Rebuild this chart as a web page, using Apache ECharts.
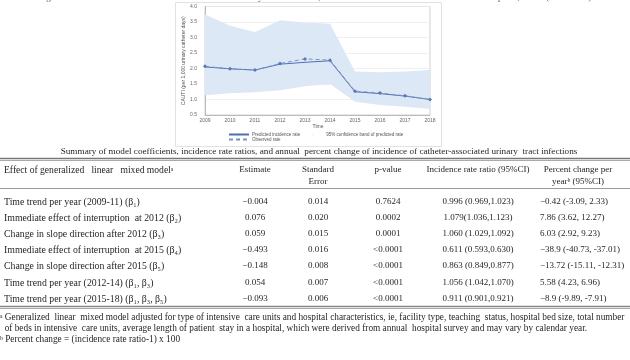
<!DOCTYPE html>
<html><head><meta charset="utf-8">
<script src="https://cdn.jsdelivr.net/npm/echarts@6/dist/echarts.min.js"></script>
<style>html,body{margin:0;padding:0;background:#fff}#c{width:630px;height:360px}</style>
</head><body><div id="c"></div>
<script>
// ---- chart data ----
const years = ['2009','2010','2011','2012','2013','2014','2015','2016','2017','2018'];
const predicted = [2.05, 1.99, 1.95, 2.14, 2.20, 2.25, 1.25, 1.19, 1.11, 1.00];
const observed  = [2.07, 1.99, 1.95, 2.16, 2.31, 2.27, 1.27, 1.21, 1.12, 1.00];
const bandUpper = [3.74, 3.38, 3.18, 3.56, 3.48, 3.44, 1.90, 1.88, 1.90, 1.95];
const bandLower = [1.14, 1.20, 1.23, 1.30, 1.43, 1.50, 0.93, 0.82, 0.77, 0.69];

// ---- table data ----
const figTitle = 'Figure 1. Trend in the incidence of catheter-associated urinary tract infections, CAUTI incidence in intensive care units and hospitals, Korea (2009-2018)';
const tableTitle = 'Summary of model coefficients, incidence rate ratios, and annual  percent change of incidence of catheter-associated urinary  tract infections';
const effects = [
  'Time trend per year (2009-11) (β₁)',
  'Immediate effect of interruption  at 2012 (β₂)',
  'Change in slope direction after 2012 (β₃)',
  'Immediate effect of interruption  at 2015 (β₄)',
  'Change in slope direction after 2015 (β₅)',
  'Time trend per year (2012-14) (β₁, β₃)',
  'Time trend per year (2015-18) (β₁, β₃, β₅)'
];
const estimates = ['−0.004','0.076','0.059','−0.493','−0.148','0.054','−0.093'];
const stdErrors = ['0.014','0.020','0.015','0.016','0.008','0.007','0.006'];
const pValues   = ['0.7624','0.0002','0.0001','<0.0001','<0.0001','<0.0001','<0.0001'];
const irrs = ['0.996 (0.969,1.023)','1.079(1.036,1.123)','1.060 (1.029,1.092)','0.611 (0.593,0.630)','0.863 (0.849,0.877)','1.056 (1.042,1.070)','0.911 (0.901,0.921)'];
const pctChanges = ['−0.42 (-3.09, 2.33)','7.86 (3.62, 12.27)','6.03 (2.92, 9.23)','−38.9 (-40.73, -37.01)','−13.72 (-15.11, -12.31)','5.58 (4.23, 6.96)','−8.9 (-9.89, -7.91)'];
const headers = ['Effect of generalized   linear   mixed modelᵃ','Estimate','Standard','Error','p-value','Incidence rate ratio (95%CI)','Percent change per','yearᵇ (95%CI)'];
const footnotes = [
  'ᵃ Generalized  linear  mixed model adjusted for type of intensive  care units and hospital characteristics, ie, facility type, teaching  status, hospital bed size, total number',
  '  of beds in intensive  care units, average length of patient  stay in a hospital, which were derived from annual  hospital survey and may vary by calendar year.',
  'ᵇ Percent change = (incidence rate ratio-1) x 100'
];

const bandDiff = bandUpper.map((u, i) => +(u - bandLower[i]).toFixed(3));

const serif = '"Liberation Serif","DejaVu Serif",serif';
const sans = '"Liberation Sans","DejaVu Sans",sans-serif';
const ink = '#262626';

const rowY = [202, 218, 234, 250, 266, 283, 299];
const colX = {est: 255, se: 318, p: 388, irr: 478, pct: 540};

const g = [];
function txt(x, y, s, opt) {
  g.push(Object.assign({type: 'text', x, y, silent: true,
    style: Object.assign({text: s, font: '9px ' + serif, fill: ink, textAlign: 'left', textVerticalAlign: 'middle'}, opt || {})}));
}
function hline(y, w, c) {
  g.push({type: 'line', silent: true, shape: {x1: 0, y1: y, x2: 630, y2: y}, style: {stroke: c || '#888', lineWidth: w || 1}});
}
// chart panel frame
g.push({type: 'rect', silent: true, shape: {x: 175.5, y: 2.5, width: 266, height: 144}, style: {fill: 'none', stroke: '#e2e2e2', lineWidth: 1}});
// figure title (cut at top)
txt(315, -2, figTitle, {textAlign: 'center', font: '9px ' + serif, fill: '#555'});
// table title
txt(319, 152, tableTitle, {textAlign: 'center', font: '9.2px ' + serif});
hline(158.5, 1.5, '#777');
hline(160.5, 1, '#aaa');
txt(4, 170, headers[0], {font: '9.6px ' + serif});
txt(colX.est, 170, headers[1], {textAlign: 'center'});
txt(colX.se, 170, headers[2], {textAlign: 'center'});
txt(colX.se, 182, headers[3], {textAlign: 'center'});
txt(colX.p, 170, headers[4], {textAlign: 'center'});
txt(colX.irr, 170, headers[5], {textAlign: 'center'});
txt(578, 170, headers[6], {textAlign: 'center'});
txt(578, 182, headers[7], {textAlign: 'center'});
hline(188.5, 1, '#999');
effects.forEach((e, i) => {
  const y = rowY[i];
  txt(4, y, e, {font: '9.8px ' + serif});
  txt(colX.est, y, estimates[i], {textAlign: 'center'});
  txt(colX.se, y, stdErrors[i], {textAlign: 'center'});
  txt(colX.p, y, pValues[i], {textAlign: 'center'});
  txt(colX.irr, y, irrs[i], {textAlign: 'center'});
  txt(colX.pct, y, pctChanges[i]);
});
hline(306.5, 1.5, '#888');
hline(308.5, 1, '#aaa');
txt(0, 318, footnotes[0], {font: '9.3px ' + serif});
txt(0, 329, footnotes[1], {font: '9.3px ' + serif});
txt(0, 340, footnotes[2], {font: '9.3px ' + serif});
// x-axis name
txt(318, 127, 'Time', {textAlign: 'center', font: '5px ' + sans, fill: '#555'});

const chart = echarts.init(document.getElementById('c'), null, {renderer: 'canvas'});
chart.setOption({
  animation: false,
  backgroundColor: '#fff',
  grid: {left: 205, right: 200, top: 6.5, bottom: 245, show: true, borderColor: '#d0d0d0', borderWidth: 1, backgroundColor: 'transparent'},
  legend: [
    {data: ['Predicted incidence rate', '95% confidence band of predicted rate'], left: 228, top: 132, itemWidth: 20, itemHeight: 2, itemGap: 3,
     textStyle: {fontSize: 4.5, color: '#555', fontFamily: sans, padding: [0,0,0,-2]}, padding: 0},
    {data: ['Observed rate'], left: 228, top: 137, itemWidth: 20, itemHeight: 2,
     textStyle: {fontSize: 4.5, color: '#555', fontFamily: sans, padding: [0,0,0,-2]}, padding: 0}
  ],
  xAxis: {type: 'category', data: years, boundaryGap: false,
    axisLine: {show: true, lineStyle: {color: '#bbb'}}, axisTick: {show: false},
    axisLabel: {fontSize: 5, color: '#666', fontFamily: sans, margin: 3, interval: 0},
    splitLine: {show: false}},
  yAxis: {type: 'value', min: 0.5, max: 4.0, interval: 0.5,
    name: 'CAUTI (per 1,000 urinary catheter days)', nameLocation: 'middle', nameGap: 19,
    nameTextStyle: {fontSize: 5, color: '#555', fontFamily: sans},
    axisLine: {show: true, lineStyle: {color: '#bbb'}}, axisTick: {show: false},
    axisLabel: {fontSize: 5, color: '#666', fontFamily: sans, margin: 8, formatter: v => v.toFixed(1)},
    splitLine: {show: true, lineStyle: {color: '#ececec', width: 0.8}}},
  series: [
    {name: 'lower', type: 'line', data: bandLower, stack: 'ci', symbol: 'none', silent: true,
     lineStyle: {opacity: 0}, areaStyle: {opacity: 0}, z: 1},
    {name: '95% confidence band of predicted rate', type: 'line', data: bandDiff, stack: 'ci', symbol: 'none', silent: true,
     itemStyle: {color: '#dde8f6'}, lineStyle: {opacity: 0, width: 0}, areaStyle: {color: '#dde8f6', opacity: 1}, z: 1},
    {name: 'Predicted incidence rate', type: 'line', data: predicted, symbol: 'none',
     itemStyle: {color: '#4e6fae'}, lineStyle: {color: '#4e6fae', width: 1}, z: 3},
    {name: 'Observed rate', type: 'line', data: observed, symbol: 'diamond', symbolSize: 4,
     itemStyle: {color: '#5a78b4'}, lineStyle: {color: '#7d93c4', width: 1, type: [4, 3]}, z: 4}
  ],
  graphic: g
});
</script></body></html>
